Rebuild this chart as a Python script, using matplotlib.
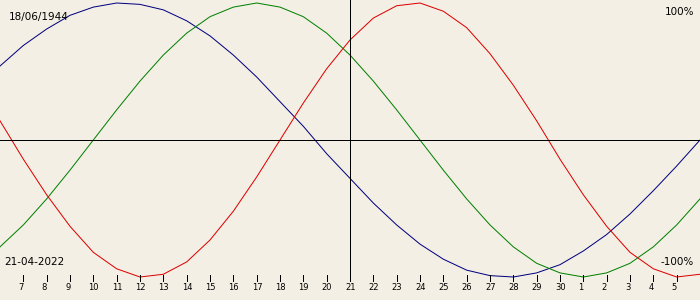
import matplotlib
matplotlib.use("Agg")
import matplotlib.pyplot as plt
import matplotlib.transforms as mtransforms

# Biorhythm chart: 18/06/1944 viewed around 21-04-2022 (days Apr 6 .. May 6)
day_labels = ["6", "7", "8", "9", "10", "11", "12", "13", "14", "15", "16", "17", "18", "19",
              "20", "21", "22", "23", "24", "25", "26", "27", "28", "29", "30",
              "1", "2", "3", "4", "5", "6"]

physical = [0.14, -0.14, -0.40, -0.63, -0.82, -0.94, -1.00, -0.98, -0.89, -0.73, -0.52,
            -0.27, 0.00, 0.27, 0.52, 0.73, 0.89, 0.98, 1.00, 0.94, 0.82, 0.63, 0.40,
            0.14, -0.14, -0.40, -0.63, -0.82, -0.94, -1.00, -0.98]
emotional = [-0.78, -0.62, -0.43, -0.22, 0.00, 0.22, 0.43, 0.62, 0.78, 0.90, 0.97,
             1.00, 0.97, 0.90, 0.78, 0.62, 0.43, 0.22, 0.00, -0.22, -0.43, -0.62, -0.78,
             -0.90, -0.97, -1.00, -0.97, -0.90, -0.78, -0.62, -0.43]
intellectual = [0.54, 0.69, 0.81, 0.91, 0.97, 1.00, 0.99, 0.95, 0.87, 0.76, 0.62,
                0.46, 0.28, 0.10, -0.10, -0.28, -0.46, -0.62, -0.76, -0.87, -0.95, -0.99,
                -1.00, -0.97, -0.91, -0.81, -0.69, -0.54, -0.37, -0.19, 0.00]

birth_text = "18/06/1944"
date_text = "21-04-2022"
today_index = 15

BG = "#f3efe4"
fig = plt.figure(figsize=(7, 3), dpi=100, facecolor=BG)
ax = fig.add_axes([0, 0, 1, 1], facecolor=BG)
ax.set_axis_off()

x = list(range(len(day_labels)))
ax.set_xlim(0, 30)
amp = 137.0
ax.set_ylim(-160 / amp, 140 / amp)

lw = 0.72
ax.plot(x, intellectual, color="#000080", lw=lw)
ax.plot(x, emotional, color="#008000", lw=lw)
ax.plot(x, physical, color="#dd0000", lw=lw)

ax.axhline(0, color="black", lw=lw, antialiased=False)
trans = mtransforms.blended_transform_factory(ax.transData, ax.transAxes)
ax.plot([today_index, today_index], [1 - 280 / 300, 1.0], color="black", lw=lw,
        transform=trans, antialiased=False)

# ticks and labels
off = mtransforms.offset_copy(trans, fig=fig, x=-5, y=0, units="dots")
for i, lab in enumerate(day_labels):
    if i == 0 or i == len(day_labels) - 1:
        continue
    ax.plot([i, i], [1 - 275 / 300, 1 - 281 / 300], color="black", lw=lw,
            transform=trans, antialiased=False)
    ax.text(i, 1 - 288 / 300, lab, transform=off, ha="left", va="center",
            fontsize=6, color="black", family="DejaVu Sans")

ax.text(9 / 700, 1 - 17 / 300, birth_text, transform=ax.transAxes, ha="left",
        va="center", fontsize=7.5, color="black")
ax.text(4 / 700, 1 - 262 / 300, date_text, transform=ax.transAxes, ha="left",
        va="center", fontsize=7.5, color="black")
ax.text(694 / 700, 1 - 12 / 300, "100%", transform=ax.transAxes, ha="right",
        va="center", fontsize=7.5, color="black")
ax.text(694 / 700, 1 - 262 / 300, "-100%", transform=ax.transAxes, ha="right",
        va="center", fontsize=7.5, color="black")

fig.savefig("out.png", dpi=100, facecolor=BG)
